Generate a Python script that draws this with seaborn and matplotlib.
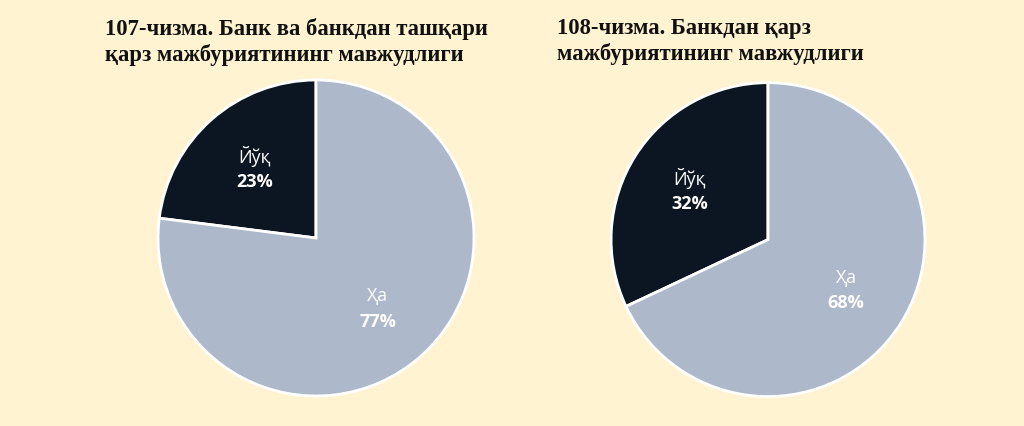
import numpy as np
import matplotlib
matplotlib.use("Agg")
import matplotlib.pyplot as plt
import seaborn as sns

# data
categories = ["Йўқ", "Ҳа"]
shares_107 = [23, 77]
shares_108 = [32, 68]
titles = [
    "107-чизма. Банк ва банкдан ташқари\nқарз мажбуриятининг мавжудлиги",
    "108-чизма. Банкдан қарз\nмажбуриятининг мавжудлиги",
]

sns.set_theme(style="white")
plt.rcParams["font.family"] = ["Open Sans", "DejaVu Sans"]

bg = "#FFF3D1"
colors = ["#0B1622", "#ADB9CA"]

fig = plt.figure(figsize=(10.24, 4.27), dpi=100, facecolor=bg)

axes_rects = [
    [0.1543, 0.0703, 0.3086, 0.740],
    [0.5967, 0.0690, 0.3066, 0.735],
]
title_x = [105 / 1024, 557 / 1024]


def draw_pie(ax, values, title, tx):
    ax.set_facecolor(bg)
    wedges, _ = ax.pie(
        values,
        colors=colors,
        startangle=90,
        counterclock=True,
        radius=1.0,
        wedgeprops={"edgecolor": "white", "linewidth": 2},
    )
    for w, cat, v in zip(wedges, categories, values):
        mid = np.deg2rad((w.theta1 + w.theta2) / 2)
        r = 0.59
        x, y = r * np.cos(mid), r * np.sin(mid)
        ax.text(x, y + 0.08, cat, ha="center", va="center",
                color="white", fontsize=13)
        ax.text(x, y - 0.08, f"{v}%", ha="center", va="center",
                color="white", fontsize=13, fontweight="bold")
    ax.set_xlim(-1, 1)
    ax.set_ylim(-1, 1)
    ax.set_aspect("equal")
    ax.axis("off")
    fig.text(tx, 1 - 18 / 427, title, ha="left", va="top",
             family="Liberation Serif", fontweight="bold", fontsize=16.3,
             color="#111111", linespacing=1.22)


for rect, vals, t, tx in zip(axes_rects, [shares_107, shares_108], titles, title_x):
    ax = fig.add_axes(rect)
    draw_pie(ax, vals, t, tx)

fig.savefig("out.png", dpi=100, facecolor=bg)
